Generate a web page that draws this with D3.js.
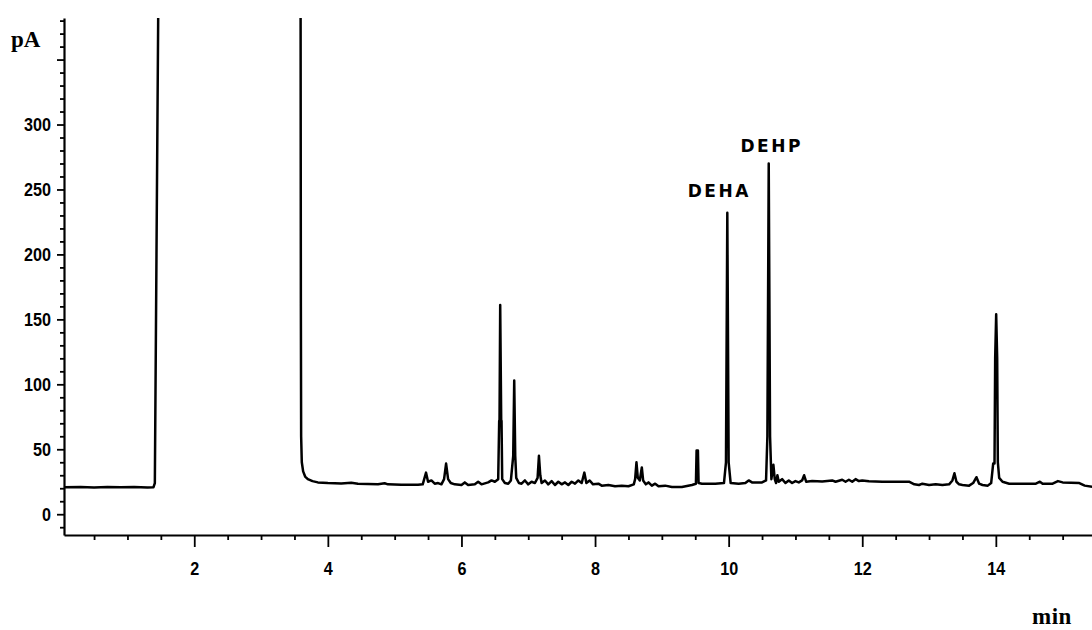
<!DOCTYPE html>
<html>
<head>
<meta charset="utf-8">
<script src="https://cdn.jsdelivr.net/npm/d3@7"></script>
<style>
  html, body { margin: 0; padding: 0; background: #fff; }
  svg { display: block; }
  .tick-label { font-family: "Liberation Sans", Arial, sans-serif; font-weight: bold; font-size: 19px; fill: #000; }
  .unit { font-family: "Liberation Serif", "Times New Roman", serif; font-weight: bold; fill: #000; }
  .peak-name { font-family: "DejaVu Sans", Verdana, sans-serif; font-weight: bold; font-size: 17px; letter-spacing: 2.5px; fill: #000; }
</style>
</head>
<body>
<svg id="chart" width="1092" height="630"></svg>
<script>
// Retention time axis (min) and detector signal axis (pA)
const timeDomain = [0.05, 15.45];
const signalDomain = [-16, 382];
const xMajorTicks = [2, 4, 6, 8, 10, 12, 14];
const yMajorTicks = [0, 50, 100, 150, 200, 250, 300, 350];
const yTickLabels = ["0", "50", "100", "150", "200", "250", "300", ""];

// Identified compounds: retention time (min) and apex height (pA)
const peakNames = ["DEHA", "DEHP"];
const peakTimes = [9.98, 10.60];
const peakHeights = [232, 270];

// FID trace as [time (min), signal (pA)]; the solvent front runs off scale
const chromatogram = [
  [0.05, 20.8], [0.3, 20.9], [0.5, 20.6], [0.7, 21.0], [0.9, 20.7], [1.1, 20.9], [1.3, 20.6], [1.39, 20.8],
  [1.41, 24], [1.46, 382], [1.47, 600],
  [3.585, 600], [3.592, 382], [3.596, 160], [3.600, 60], [3.61, 40], [3.63, 33], [3.66, 29], [3.70, 27],
  [3.77, 25.5], [3.85, 24.5], [4.0, 24], [4.2, 23.6], [4.35, 24.2], [4.45, 23.4], [4.6, 23.2], [4.75, 23.0],
  [4.85, 23.8], [4.9, 23.0], [5.1, 22.6], [5.35, 22.6], [5.42, 23], [5.47, 32], [5.50, 25], [5.55, 26],
  [5.60, 23.5], [5.65, 24], [5.70, 23], [5.74, 27], [5.77, 39], [5.80, 27], [5.84, 24], [5.9, 23],
  [6.0, 22.5], [6.05, 24.5], [6.1, 22.5], [6.2, 23], [6.25, 25], [6.3, 23], [6.4, 24.5], [6.45, 26],
  [6.5, 25], [6.55, 27], [6.565, 72], [6.57, 72], [6.58, 161], [6.595, 72], [6.60, 72], [6.61, 27],
  [6.65, 24], [6.70, 23.5], [6.74, 26], [6.775, 45], [6.79, 103], [6.805, 45], [6.82, 28], [6.86, 24],
  [6.9, 23.5], [6.95, 26], [7.0, 23], [7.05, 25], [7.1, 24], [7.14, 28], [7.16, 45], [7.18, 30],
  [7.2, 24], [7.25, 26], [7.3, 23], [7.35, 25.5], [7.4, 22.5], [7.45, 25], [7.5, 23], [7.55, 24.5],
  [7.6, 22.5], [7.65, 25], [7.7, 23.5], [7.75, 26], [7.8, 24], [7.84, 32], [7.87, 24], [7.92, 26],
  [7.97, 23], [8.05, 23.5], [8.1, 22], [8.2, 22.5], [8.3, 21.5], [8.4, 22], [8.5, 21.5], [8.58, 23],
  [8.60, 27], [8.62, 40], [8.64, 28], [8.67, 26], [8.70, 36], [8.72, 26], [8.76, 23], [8.8, 24.5],
  [8.85, 22], [8.9, 23.5], [8.95, 21.5], [9.05, 22], [9.15, 21], [9.3, 21], [9.45, 22.5], [9.51, 23.5],
  [9.52, 49], [9.54, 49], [9.55, 24], [9.6, 23.5], [9.8, 23.5], [9.93, 24], [9.96, 40], [9.98, 232],
  [10.00, 40], [10.03, 24], [10.15, 23.5], [10.25, 24], [10.30, 26], [10.35, 24.5], [10.5, 24.5],
  [10.56, 26], [10.58, 60], [10.60, 270], [10.62, 60], [10.64, 27], [10.67, 38], [10.69, 27], [10.71, 24],
  [10.73, 30], [10.75, 25], [10.8, 27], [10.85, 24], [10.9, 26], [10.95, 24], [11.0, 25.5], [11.05, 24.5],
  [11.1, 26], [11.13, 30], [11.16, 25], [11.25, 25.5], [11.4, 25.2], [11.55, 26], [11.6, 25], [11.7, 26.5],
  [11.75, 25], [11.8, 26.5], [11.85, 25], [11.9, 27], [11.95, 25.5], [12.0, 26], [12.1, 25.3], [12.3, 25],
  [12.5, 25], [12.7, 25], [12.78, 23], [12.85, 22.5], [12.9, 23.5], [13.0, 22.5], [13.1, 23], [13.2, 22.5],
  [13.3, 23], [13.35, 26], [13.38, 31.5], [13.41, 25], [13.45, 23], [13.5, 22.5], [13.6, 22], [13.66, 24],
  [13.71, 28.5], [13.75, 23.5], [13.8, 22.5], [13.88, 22], [13.93, 24], [13.96, 39], [13.98, 39],
  [13.99, 120], [14.005, 154], [14.02, 120], [14.03, 40], [14.05, 28], [14.1, 25], [14.2, 23.5],
  [14.4, 23.5], [14.6, 23.5], [14.66, 25], [14.7, 23.5], [14.85, 23.5], [14.93, 25.5], [15.0, 24.5],
  [15.25, 24], [15.33, 22], [15.45, 21]
];

const svg = d3.select("#chart");
const plotLeft = 64, plotRight = 1092.7, plotTop = 18, plotBottom = 535;
const digitWidth = 9;

const x = d3.scaleLinear().domain(timeDomain).range([plotLeft, plotRight]);
const y = d3.scaleLinear().domain(signalDomain).range([plotBottom, plotTop]);

svg.append("defs").append("clipPath").attr("id", "plot-area")
  .append("rect").attr("x", plotLeft).attr("y", plotTop)
  .attr("width", plotRight - plotLeft).attr("height", plotBottom - plotTop);

// Signal trace
const line = d3.line().x(d => x(d[0])).y(d => y(d[1]));
svg.append("path")
  .datum(chromatogram)
  .attr("clip-path", "url(#plot-area)")
  .attr("fill", "none")
  .attr("stroke", "#000")
  .attr("stroke-width", 2.5)
  .attr("stroke-linejoin", "round")
  .attr("d", line);

// Minor ticks
const xMinor = d3.range(0.5, 15.01, 0.5).filter(v => !xMajorTicks.includes(v));
const yMinor = d3.range(-10, 381, 10).filter(v => v % 50 !== 0);

svg.append("g")
  .attr("transform", `translate(0,${plotBottom})`)
  .call(d3.axisBottom(x).tickValues(xMinor).tickSize(5).tickSizeOuter(0).tickFormat(""))
  .call(g => g.select(".domain").remove())
  .call(g => g.selectAll("line").attr("stroke-width", 1.8));

svg.append("g")
  .attr("transform", `translate(${plotLeft},0)`)
  .call(d3.axisLeft(y).tickValues(yMinor).tickSize(4).tickSizeOuter(0).tickFormat(""))
  .call(g => g.select(".domain").remove())
  .call(g => g.selectAll("line").attr("stroke-width", 1.8));

// Condensed digits for the tick labels
function condense(sel) {
  sel.selectAll("text")
    .attr("class", "tick-label")
    .each(function () {
      const n = this.textContent.length;
      if (n) d3.select(this).attr("textLength", n * digitWidth).attr("lengthAdjust", "spacingAndGlyphs");
    });
}

// Major axes
const xAxis = svg.append("g")
  .attr("transform", `translate(0,${plotBottom})`)
  .call(d3.axisBottom(x).tickValues(xMajorTicks).tickSize(12).tickSizeOuter(0).tickPadding(15).tickFormat(d3.format("d")));
xAxis.select(".domain").attr("stroke-width", 2.2);
xAxis.selectAll("line").attr("stroke-width", 1.8);
condense(xAxis);

const yAxis = svg.append("g")
  .attr("transform", `translate(${plotLeft},0)`)
  .call(d3.axisLeft(y).tickValues(yMajorTicks).tickSize(7).tickSizeOuter(0).tickPadding(6)
    .tickFormat((d, i) => yTickLabels[i]));
yAxis.select(".domain").attr("stroke-width", 2.2);
yAxis.selectAll("line").attr("stroke-width", 1.8);
condense(yAxis);

// Units
svg.append("text").attr("class", "unit").attr("x", 11).attr("y", 47)
  .style("font-size", "23px").text("pA");
svg.append("text").attr("class", "unit").attr("x", 1032).attr("y", 624)
  .style("font-size", "23px").style("letter-spacing", "0.5px").text("min");

// Compound labels above their peaks
const labelDx = [-8, 3];
const labelDy = [16, 11];
svg.selectAll("text.peak-name")
  .data(peakNames)
  .join("text")
  .attr("class", "peak-name")
  .attr("text-anchor", "middle")
  .attr("x", (d, i) => x(peakTimes[i]) + labelDx[i])
  .attr("y", (d, i) => y(peakHeights[i]) - labelDy[i])
  .text(d => d);
</script>
</body>
</html>
